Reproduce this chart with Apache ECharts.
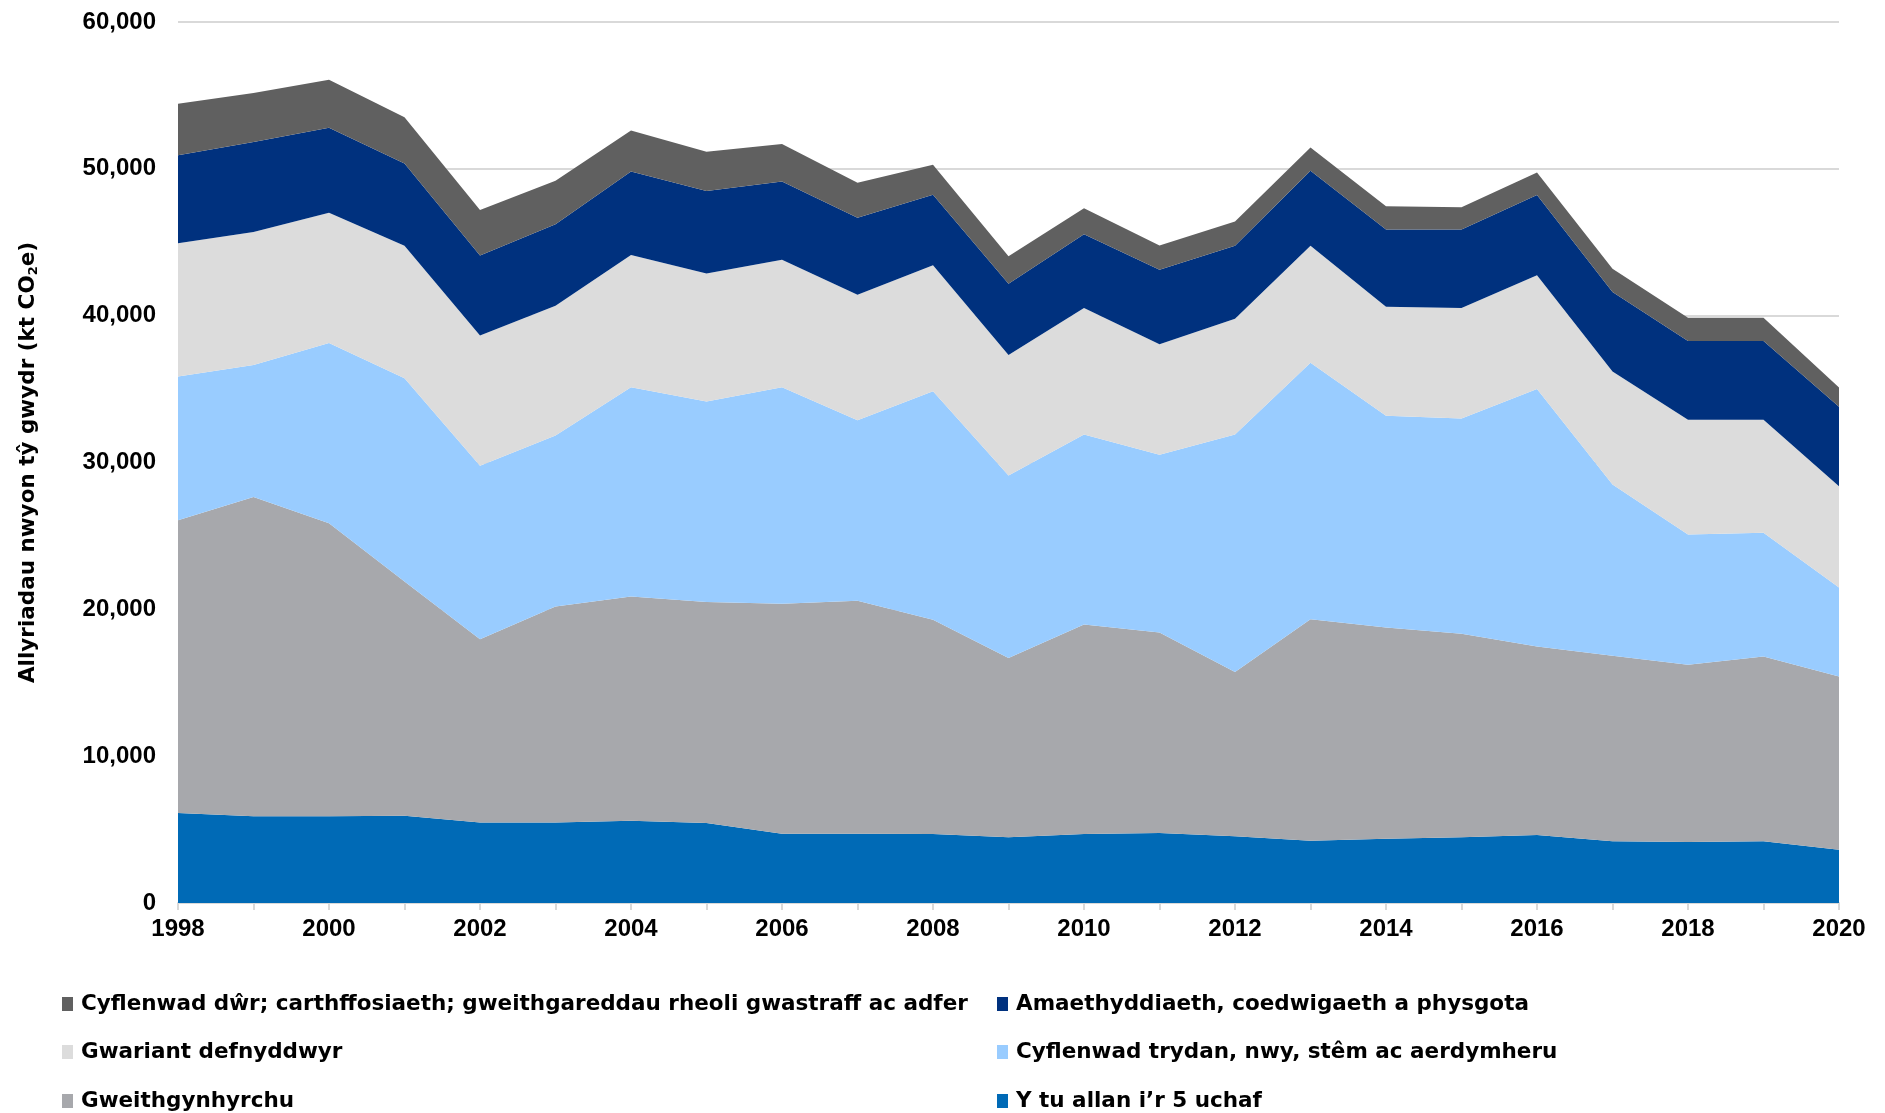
<!DOCTYPE html>
<html>
<head>
<meta charset="utf-8">
<script src="https://cdn.jsdelivr.net/npm/echarts@6/dist/echarts.min.js"></script>
<style>
html,body{margin:0;padding:0;background:#fff;}
#chart{width:1885px;height:1113px;}
</style>
</head>
<body>
<div id="chart"></div>
<script>
var years = ['1998','1999','2000','2001','2002','2003','2004','2005','2006','2007','2008','2009','2010','2011','2012','2013','2014','2015','2016','2017','2018','2019','2020'];

var outsideTop5 = [6130,5900,5900,5950,5490,5490,5610,5450,4720,4720,4700,4470,4700,4770,4540,4240,4380,4470,4630,4200,4150,4200,3630];
var manufacturing = [19940,21750,19970,15950,12480,14700,15270,15050,15660,15860,14590,12210,14270,13660,11190,15090,14390,13860,12840,12640,12070,12590,11800];
var electricity = [9790,8990,12270,13830,11810,11650,14250,13660,14750,12290,15570,12430,12930,12090,16170,17470,14420,14660,17530,11660,8870,8420,6060];
var consumer = [9080,9060,8870,9040,8870,8840,9010,8720,8670,8550,8570,8210,8620,7530,7890,7970,7410,7530,7750,7700,7820,7700,6890];
var agriculture = [5980,6120,5780,5590,5440,5540,5680,5610,5340,5250,4810,4860,5030,5080,4980,5100,5270,5340,5470,5420,5370,5370,5420];
var water = [3520,3350,3280,3160,3110,2960,2790,2670,2550,2380,2040,1870,1770,1650,1650,1580,1580,1530,1530,1580,1580,1580,1310];

var names = {
  outside: 'Y tu allan i\u2019r 5 uchaf',
  manuf: 'Gweithgynhyrchu',
  elec: 'Cyflenwad trydan, nwy, st\u00eam ac aerdymheru',
  cons: 'Gwariant defnyddwyr',
  agri: 'Amaethyddiaeth, coedwigaeth a physgota',
  water: 'Cyflenwad d\u0175r; carthffosiaeth; gweithgareddau rheoli gwastraff ac adfer'
};
var colors = {
  outside: '#006AB6',
  manuf: '#A7A8AC',
  elec: '#99CCFF',
  cons: '#DCDCDC',
  agri: '#00317E',
  water: '#606060'
};

var FONT = 'Liberation Sans, Arial, sans-serif';
var WIDEFONT = 'DejaVu Sans, Liberation Sans, sans-serif';

function areaSeries(key, data) {
  return {
    name: names[key],
    type: 'line',
    stack: 'total',
    data: data,
    symbol: 'none',
    showSymbol: false,
    lineStyle: {width: 0, color: colors[key]},
    itemStyle: {color: colors[key]},
    areaStyle: {color: colors[key], opacity: 1},
    emphasis: {disabled: true},
    z: 2
  };
}

function legendAt(key, left, top) {
  return {
    data: [names[key]],
    left: left,
    top: top,
    icon: 'rect',
    itemWidth: 11,
    itemHeight: 14,
    itemGap: 0,
    selectedMode: false,
    textStyle: {fontFamily: WIDEFONT, fontWeight: 'bold', fontSize: 21.5, color: '#000', padding: [0,0,0,3]}
  };
}

var chart = echarts.init(document.getElementById('chart'), null, {renderer: 'canvas'});
chart.setOption({
  animation: false,
  backgroundColor: '#ffffff',
  grid: {left: 178, right: 46, top: 22, bottom: 210, containLabel: false},
  legend: [
    legendAt('water', 57, 988),
    legendAt('cons', 57, 1036),
    legendAt('manuf', 57, 1085),
    legendAt('agri', 992, 988),
    legendAt('elec', 992, 1036),
    legendAt('outside', 992, 1085)
  ],
  xAxis: {
    type: 'category',
    data: years,
    boundaryGap: false,
    axisLine: {show: true, lineStyle: {color: '#D9D9D9', width: 2}},
    axisTick: {show: true, interval: 0, length: 7, lineStyle: {color: '#D9D9D9', width: 2}},
    axisLabel: {interval: 1, margin: 14, fontFamily: FONT, fontWeight: 'bold', fontSize: 24, color: '#000'},
    splitLine: {show: false}
  },
  yAxis: {
    type: 'value',
    min: 0,
    max: 60000,
    interval: 10000,
    axisLine: {show: false},
    axisTick: {show: false},
    axisLabel: {
      margin: 22,
      fontFamily: FONT, fontWeight: 'bold', fontSize: 24, color: '#000',
      formatter: function (v) { return v.toLocaleString('en-GB'); }
    },
    splitLine: {show: true, lineStyle: {color: '#D9D9D9', width: 2}},
    name: '{a|Allyriadau nwyon t\u0177 gwydr (kt CO}{s|2}{a|e)}',
    nameLocation: 'middle',
    nameGap: 138,
    nameRotate: 90,
    nameTextStyle: {
      rich: {
        a: {fontFamily: WIDEFONT, fontWeight: 'bold', fontSize: 21.5, color: '#000'},
        s: {fontFamily: WIDEFONT, fontWeight: 'bold', fontSize: 13, color: '#000', verticalAlign: 'bottom', padding: [10,0,0,0]}
      }
    }
  },
  series: [
    areaSeries('outside', outsideTop5),
    areaSeries('manuf', manufacturing),
    areaSeries('elec', electricity),
    areaSeries('cons', consumer),
    areaSeries('agri', agriculture),
    areaSeries('water', water)
  ]
});
</script>
</body>
</html>
